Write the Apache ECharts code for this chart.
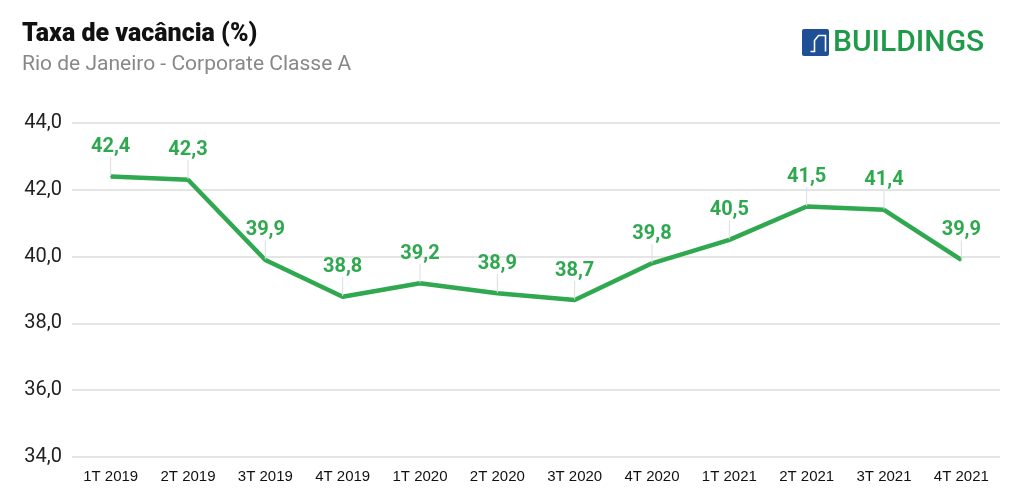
<!DOCTYPE html>
<html><head><meta charset="utf-8">
<script src="https://cdn.jsdelivr.net/npm/echarts@6/dist/echarts.min.js"></script>
<style>html,body{margin:0;padding:0;background:#fff}#c{width:1024px;height:498px}</style>
</head><body><div id="c"></div>
<script>
const categories = ['1T 2019','2T 2019','3T 2019','4T 2019','1T 2020','2T 2020','3T 2020','4T 2020','1T 2021','2T 2021','3T 2021','4T 2021'];
const vacancy = [42.4, 42.3, 39.9, 38.8, 39.2, 38.9, 38.7, 39.8, 40.5, 41.5, 41.4, 39.9];
const titleText = 'Taxa de vacância (%)';
const subtitleText = 'Rio de Janeiro - Corporate Classe A';
const logoText = 'BUILDINGS';

const green = '#2fa84f';
const chart = echarts.init(document.getElementById('c'));
const fmt = v => v.toFixed(1).replace('.', ',');
chart.setOption({
  animation: false,
  title: {
    text: titleText, subtext: subtitleText, left: 17, top: 17, itemGap: 7,
    textStyle: {fontFamily: 'Roboto', fontWeight: 900, fontSize: 25, color: '#111'},
    subtextStyle: {fontFamily: 'Roboto', fontSize: 21, color: '#888'}
  },
  grid: {left: 72, right: 24, top: 123, bottom: 41, containLabel: false},
  xAxis: {
    type: 'category', data: categories, boundaryGap: true,
    axisLine: {show: false}, axisTick: {show: false},
    axisLabel: {fontFamily: 'Liberation Sans', fontSize: 15, color: '#111', margin: 12}
  },
  yAxis: {
    type: 'value', min: 34, max: 44, interval: 2,
    axisLabel: {formatter: v => fmt(v), fontFamily: 'Roboto', fontSize: 20, color: '#222', margin: 10},
    splitLine: {lineStyle: {color: '#dcdcdc', width: 1.5}},
    axisLine: {show: false}, axisTick: {show: false}
  },
  series: [{
    type: 'line', data: vacancy, symbol: 'circle', symbolSize: 1, showSymbol: true,
    itemStyle: {color: green},
    lineStyle: {color: green, width: 4.5},
    label: {show: true, position: 'top', distance: 4, formatter: p => fmt(p.value),
      fontFamily: 'Roboto', fontWeight: 'bold', fontSize: 20, color: green},
    labelLayout: {dy: -15},
    labelLine: {show: true, lineStyle: {color: '#dddddd', width: 1}}
  }],
  graphic: [
    {type: 'rect', left: 802, top: 29, shape: {width: 27, height: 27, r: 2}, style: {fill: '#1f4f95'}},
    {type: 'polyline', left: 808, top: 33, shape: {points: [[1,19],[5,19],[5,8],[9,3],[16,3],[16,19]]}, style: {stroke: '#fff', lineWidth: 1.6, fill: 'none'}},
    {type: 'text', left: 833, top: 28, style: {text: logoText, fontFamily: 'Roboto', fontSize: 30, fontWeight: 500, fill: '#1e9a48'}}
  ]
});
</script></body></html>
